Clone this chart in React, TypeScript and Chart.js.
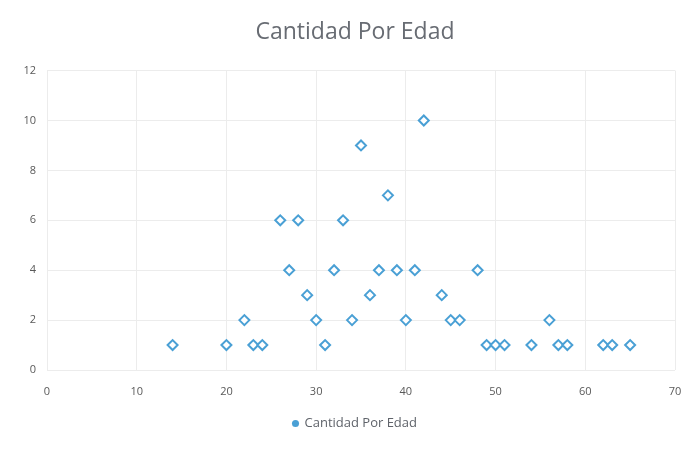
import React, { useEffect, useRef } from "react";
import { Chart, registerables } from "chart.js";

Chart.register(...registerables);

const edades: number[] = [14, 20, 22, 23, 24, 26, 27, 28, 29, 30, 31, 32, 33, 34, 35, 36, 37, 38, 39, 40, 41, 42, 44, 45, 46, 48, 49, 50, 51, 54, 56, 57, 58, 62, 63, 65];
const cantidades: number[] = [1, 1, 2, 1, 1, 6, 4, 6, 3, 2, 1, 4, 6, 2, 9, 3, 4, 7, 4, 2, 4, 10, 3, 2, 2, 4, 1, 1, 1, 1, 2, 1, 1, 1, 1, 1];
const titulo = "Cantidad Por Edad";
const serieNombre = "Cantidad Por Edad";

export default function App() {
  const ref = useRef<HTMLCanvasElement | null>(null);
  useEffect(() => {
    document.body.style.margin = "0";
    const ctx = ref.current!.getContext("2d")!;
    const chart = new Chart(ctx, {
      type: "scatter",
      data: {
        datasets: [
          {
            label: serieNombre,
            data: edades.map((x, i) => ({ x, y: cantidades[i] })),
            pointStyle: "rectRot",
            pointRadius: 5,
            pointBorderWidth: 2,
            borderColor: "#4aa0d5",
            backgroundColor: "#ffffff",
          },
        ],
      },
      options: {
        animation: false,
        responsive: false,
        layout: { padding: { left: 14, right: 0, bottom: 10, top: 0 } },
        plugins: {
          title: {
            display: true,
            text: titulo,
            color: "#686c73",
            font: { family: "'Open Sans', sans-serif", size: 23, weight: "normal" },
            padding: { top: 19, bottom: 24 },
          },
          legend: {
            position: "bottom",
            labels: {
              usePointStyle: true,
              pointStyle: "circle",
              boxWidth: 5,
              boxHeight: 5,
              padding: 9,
              color: "#5f636a",
              font: { family: "'Open Sans', sans-serif", size: 13 },
              generateLabels: (c: any) => [
                {
                  text: serieNombre,
                  fillStyle: "#4aa0d5",
                  strokeStyle: "#4aa0d5",
                  lineWidth: 0,
                  pointStyle: "circle",
                  hidden: false,
                  datasetIndex: 0,
                  fontColor: "#5f636a",
                },
              ],
            },
          },
          tooltip: { enabled: false },
        },
        scales: {
          x: {
            type: "linear",
            min: 0,
            max: 70,
            ticks: { stepSize: 10, color: "#595959", font: { family: "'Open Sans', sans-serif", size: 11 }, padding: 15 },
            grid: { color: "#ececec", drawTicks: false },
            border: { display: false },
            afterFit: (s: any) => {
              s.height = 38;
              s.paddingRight = 21;
            },
          },
          y: {
            min: 0,
            max: 12,
            ticks: { stepSize: 2, color: "#595959", font: { family: "'Open Sans', sans-serif", size: 11 }, padding: 11 },
            grid: { color: "#ececec", drawTicks: false },
            border: { display: false },
            afterFit: (s: any) => {
              s.width = 33;
            },
          },
        },
      },
    });
    return () => chart.destroy();
  }, []);
  return (
    <div style={{ width: 696, height: 450, background: "#fff" }}>
      <canvas ref={ref} width={696} height={450} />
    </div>
  );
}
